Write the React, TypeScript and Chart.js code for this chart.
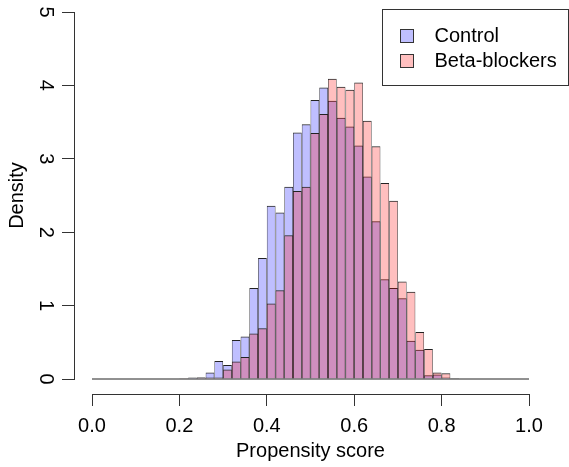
import React, { useEffect, useRef } from "react";
import { Chart, registerables } from "chart.js";

Chart.register(...registerables);

// Histogram bin centres (bin width 0.02)
const binCenters = [
  0.21, 0.23, 0.25, 0.27, 0.29, 0.31, 0.33, 0.35, 0.37, 0.39, 0.41, 0.43, 0.45, 0.47, 0.49, 0.51,
  0.53, 0.55, 0.57, 0.59, 0.61, 0.63, 0.65, 0.67, 0.69, 0.71, 0.73, 0.75, 0.77, 0.79, 0.81, 0.83,
];
const controlDensity = [
  0.01, 0.02, 0.02, 0.09, 0.245, 0.19, 0.53, 0.58, 1.24, 1.65, 2.36, 2.27, 2.62, 3.36, 3.47, 3.8,
  3.97, 3.79, 3.56, 3.44, 3.18, 2.76, 2.15, 1.36, 1.24, 1.1, 0.52, 0.4, 0.05, 0.06, 0.02, 0.01,
];
const betaDensity = [
  0.005, 0.01, 0.02, 0.02, 0.02, 0.13, 0.24, 0.3, 0.62, 0.69, 1.03, 1.21, 1.96, 2.56, 2.62, 3.35,
  3.61, 4.09, 3.98, 3.94, 4.04, 3.52, 3.17, 2.67, 2.43, 1.33, 1.19, 0.64, 0.41, 0.09, 0.08, 0.01,
];
const baselineX = [0, 1];
const seriesNames = ["Control", "Beta-blockers"];
const xTickStep = 0.2;
const yTickStep = 1;

const FONT = "'Liberation Sans', Arial, sans-serif";
const AXIS = "#333";
const BLUE = "rgba(0,0,255,0.25)";
const RED = "rgba(255,0,0,0.25)";

const legendPlugin = {
  id: "boxLegend",
  afterDraw(chart: any) {
    const ctx = chart.ctx;
    ctx.save();
    ctx.strokeStyle = AXIS;
    ctx.lineWidth = 1;
    ctx.strokeRect(382.5, 9.5, 186, 76);
    const items = [
      { label: seriesNames[0], color: BLUE, y: 36 },
      { label: seriesNames[1], color: RED, y: 61 },
    ];
    ctx.font = `20px ${FONT}`;
    ctx.textBaseline = "middle";
    ctx.textAlign = "left";
    for (const it of items) {
      ctx.fillStyle = "#fff";
      ctx.fillRect(400.5, it.y - 6.5, 13, 13);
      ctx.fillStyle = it.color;
      ctx.fillRect(400.5, it.y - 6.5, 13, 13);
      ctx.strokeStyle = AXIS;
      ctx.strokeRect(400.5, it.y - 6.5, 13, 13);
      ctx.fillStyle = "#000";
      ctx.fillText(it.label, 434.5, it.y);
    }
    ctx.restore();
  },
};

export default function App() {
  const ref = useRef<HTMLCanvasElement | null>(null);
  useEffect(() => {
    if (!ref.current) return;
    const barCommon = {
      type: "bar" as const,
      grouped: false,
      barPercentage: 1,
      categoryPercentage: 1,
      borderColor: "#222",
      borderWidth: { top: 1, left: 0.6, right: 0.6, bottom: 0 },
      borderSkipped: false,
      inflateAmount: 0,
      clip: false as any,
      xAxisID: "x",
      yAxisID: "y",
    };
    const chart = new Chart(ref.current, {
      type: "bar",
      data: {
        datasets: [
          {
            ...barCommon,
            label: seriesNames[0],
            data: binCenters.map((x, i) => ({ x, y: controlDensity[i] })),
            backgroundColor: BLUE,
            order: 2,
          },
          {
            ...barCommon,
            label: seriesNames[1],
            data: binCenters.map((x, i) => ({ x, y: betaDensity[i] })),
            backgroundColor: RED,
            order: 1,
          },
          {
            type: "line",
            label: "baseline",
            data: baselineX.map((x) => ({ x, y: 0 })),
            borderColor: "#222",
            borderWidth: 1,
            pointRadius: 0,
            clip: false as any,
            order: 0,
            xAxisID: "x",
            yAxisID: "y",
          },
        ] as any,
      },
      options: {
        animation: false,
        responsive: false,
        maintainAspectRatio: false,
        events: [],
        layout: { padding: { top: 12, right: 40, bottom: 0, left: 0 } },
        plugins: { legend: { display: false }, tooltip: { enabled: false } },
        scales: {
          x: {
            type: "linear",
            position: "bottom",
            weight: 1,
            min: 0,
            max: 1,
            offset: false,
            afterFit: (s: any) => {
              s.height = 73;
            },
            border: { display: true, color: AXIS, width: 1 },
            grid: {
              display: true,
              offset: false,
              drawOnChartArea: false,
              drawTicks: true,
              tickLength: 12,
              color: AXIS,
              lineWidth: 1,
            },
            ticks: {
              stepSize: xTickStep,
              autoSkip: false,
              maxRotation: 0,
              padding: 8,
              color: "#000",
              font: { family: FONT, size: 20 },
              callback: (v: any) => Number(v).toFixed(1),
            },
            title: {
              display: true,
              text: "Propensity score",
              color: "#000",
              font: { family: FONT, size: 20 },
              padding: { top: 0, bottom: 4 },
            },
          },
          xpad: {
            type: "linear",
            position: "bottom",
            weight: 0,
            display: true,
            afterFit: (s: any) => {
              s.height = 15;
              s.paddingLeft = 0;
              s.paddingRight = 0;
            },
            border: { display: false },
            grid: { display: false },
            ticks: { display: false },
          },
          y: {
            type: "linear",
            position: "left",
            weight: 1,
            min: 0,
            max: 5,
            afterFit: (s: any) => {
              s.width = 74;
              s.paddingTop = 0;
              s.paddingBottom = 0;
            },
            border: { display: true, color: AXIS, width: 1 },
            grid: { display: true, drawOnChartArea: false, drawTicks: true, tickLength: 12, color: AXIS, lineWidth: 1 },
            ticks: {
              stepSize: yTickStep,
              autoSkip: false,
              minRotation: -90,
              maxRotation: -90,
              crossAlign: "center",
              padding: 11,
              color: "#000",
              font: { family: FONT, size: 20 },
              callback: (v: any) => String(v),
            },
            title: {
              display: true,
              text: "Density",
              color: "#000",
              font: { family: FONT, size: 20 },
              padding: { top: 5, bottom: 0 },
            },
          },
          ypad: {
            type: "linear",
            position: "left",
            weight: 0,
            display: true,
            afterFit: (s: any) => {
              s.width = 18;
              s.paddingTop = 0;
              s.paddingBottom = 0;
            },
            border: { display: false },
            grid: { display: false },
            ticks: { display: false },
          },
        },
      } as any,
      plugins: [legendPlugin],
    });
    return () => chart.destroy();
  }, []);
  return (
    <div style={{ position: "fixed", left: 0, top: 0, width: 569, height: 467, background: "#fff" }}>
      <canvas ref={ref} width={569} height={467} style={{ display: "block", width: 569, height: 467 }} />
    </div>
  );
}
